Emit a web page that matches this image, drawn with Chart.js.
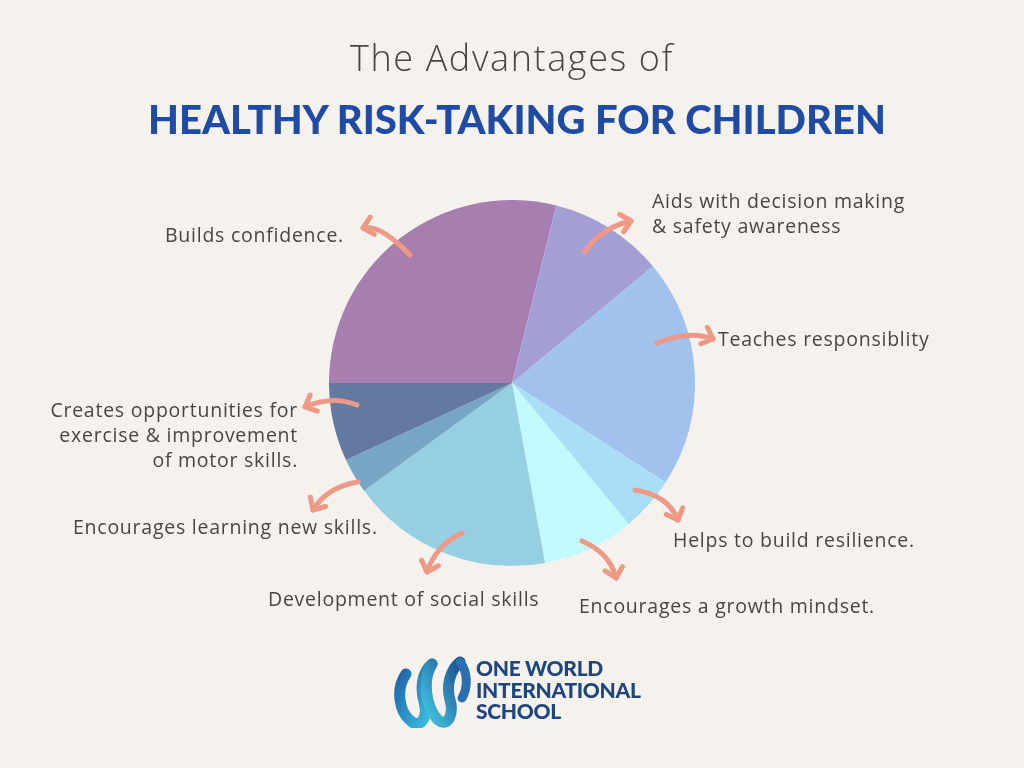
<!DOCTYPE html>
<html><head><meta charset="utf-8">
<script src="https://cdn.jsdelivr.net/npm/chart.js@4.4.1/dist/chart.umd.min.js"></script>
<style>
html,body{margin:0;padding:0;background:#F5F2EE;width:1024px;height:768px;overflow:hidden;}
#wrap{position:relative;width:1024px;height:768px;}
canvas#c{position:absolute;left:0;top:0;}
.t1{position:absolute;left:0;width:1024px;top:33px;text-align:center;font:300 36px "Open Sans",sans-serif;color:#4a4542;letter-spacing:1.6px;}
.t2{position:absolute;left:5px;width:1024px;top:95px;text-align:center;font:900 40px Lato,sans-serif;color:#1F4BA5;}
.lab{position:absolute;font:400 19.5px "Open Sans",sans-serif;color:#4a4542;line-height:25px;white-space:nowrap;letter-spacing:0.75px;}
.r{text-align:right;}
.logo{position:absolute;left:476px;top:657px;font:900 21px Lato,sans-serif;color:#1E4580;line-height:21.5px;letter-spacing:-0.3px;}
svg.icon{position:absolute;left:392px;top:654px;}
</style></head><body>
<div id="wrap">
<canvas id="c" width="1024" height="768"></canvas>
<div class="t1">The Advantages of</div>
<div class="t2">HEALTHY RISK-TAKING FOR CHILDREN</div>
<div class="lab" style="left:165px;top:222px">Builds confidence.</div>
<div class="lab" style="left:652px;top:188px">Aids with decision making<br>&amp; safety awareness</div>
<div class="lab" style="left:718px;top:326px">Teaches responsiblity</div>
<div class="lab r" style="right:726px;top:397px">Creates opportunities for<br>exercise &amp; improvement<br>of motor skills.</div>
<div class="lab" style="left:73px;top:514px">Encourages learning new skills.</div>
<div class="lab" style="left:268px;top:586px">Development of social skills</div>
<div class="lab" style="left:673px;top:527px">Helps to build resilience.</div>
<div class="lab" style="left:579px;top:593px">Encourages a growth mindset.</div>
<svg class="icon" width="82" height="74" viewBox="0 0 82 74">
<defs>
<linearGradient id="g1" x1="0" y1="0" x2="1" y2="1"><stop offset="0" stop-color="#1D5FA6"/><stop offset="1" stop-color="#3CC4E2"/></linearGradient>
<linearGradient id="g2" x1="1" y1="0" x2="0" y2="1"><stop offset="0" stop-color="#1B4E8F"/><stop offset="1" stop-color="#44C8E4"/></linearGradient>
</defs>
<path d="M14 20 C4 34 6 58 20 68 C30 74 36 62 32 48 C28 34 30 18 40 10" fill="none" stroke="url(#g1)" stroke-width="11" stroke-linecap="round"/>
<path d="M40 10 C30 26 34 54 46 66 C56 74 62 60 58 46 C54 32 58 16 68 8" fill="none" stroke="url(#g2)" stroke-width="11" stroke-linecap="round"/>
<path d="M68 8 C76 18 76 34 70 44" fill="none" stroke="#2B6FB0" stroke-width="9" stroke-linecap="round"/>
</svg>
<div class="logo">ONE WORLD<br>INTERNATIONAL<br>SCHOOL</div>
</div>
<script>
const categories = [
  "Builds confidence.",
  "Aids with decision making & safety awareness",
  "Teaches responsiblity",
  "Helps to build resilience.",
  "Encourages a growth mindset.",
  "Development of social skills",
  "Encourages learning new skills.",
  "Creates opportunities for exercise & improvement of motor skills."
];
const shares = [104, 36.4, 72.5, 17.5, 29.2, 64.3, 11.2, 24.9];
const sliceColors = ["#A67FAF","#A39FD5","#A0C2EC","#A8DFF6","#C0FAFC","#97CFE2","#76A6C4","#64799F"];

// Arrow annotation geometry, in pixels relative to pie centre for a 183px radius
const arrowSpecs = [
  [-102,-128, -132,-159, -149,-155],
  [73,-131, 88,-155, 119,-162],
  [145,-40, 178,-53, 201,-44],
  [123,107, 156,112, 166,137],
  [70,158, 98,170, 104,195],
  [-50,150, -76,162, -85,189],
  [-154,99, -185,104, -199,127],
  [-155,22, -180,12, -207,24]
];

const arrowPlugin = {
  id: 'arrows',
  afterDatasetsDraw(chart) {
    const arc = chart.getDatasetMeta(0).data[0];
    if (!arc) return;
    const cx = arc.x, cy = arc.y, k = arc.outerRadius / 183;
    const ctx = chart.ctx;
    ctx.save();
    ctx.strokeStyle = '#EE9985';
    ctx.lineWidth = 5;
    ctx.lineCap = 'round';
    ctx.lineJoin = 'round';
    arrowSpecs.forEach(a => {
      const sx = cx + a[0]*k, sy = cy + a[1]*k;
      const qx = cx + a[2]*k, qy = cy + a[3]*k;
      const ex = cx + a[4]*k, ey = cy + a[5]*k;
      ctx.beginPath();
      ctx.moveTo(sx, sy);
      ctx.quadraticCurveTo(qx, qy, ex, ey);
      ctx.stroke();
      const ang = Math.atan2(ey - qy, ex - qx);
      const L = 13, sp = 0.75;
      ctx.beginPath();
      ctx.moveTo(ex - L*Math.cos(ang - sp), ey - L*Math.sin(ang - sp));
      ctx.lineTo(ex, ey);
      ctx.lineTo(ex - L*Math.cos(ang + sp), ey - L*Math.sin(ang + sp));
      ctx.stroke();
    });
    ctx.restore();
  }
};

new Chart(document.getElementById('c'), {
  type: 'pie',
  data: {
    labels: categories,
    datasets: [{ data: shares, backgroundColor: sliceColors, borderWidth: 0, hoverOffset: 0 }]
  },
  options: {
    responsive: false,
    animation: false,
    rotation: 270,
    events: [],
    layout: { padding: { top: 200, bottom: 202, left: 0, right: 0 } },
    plugins: { legend: { display: false }, tooltip: { enabled: false } }
  },
  plugins: [arrowPlugin]
});
</script>
</body></html>
